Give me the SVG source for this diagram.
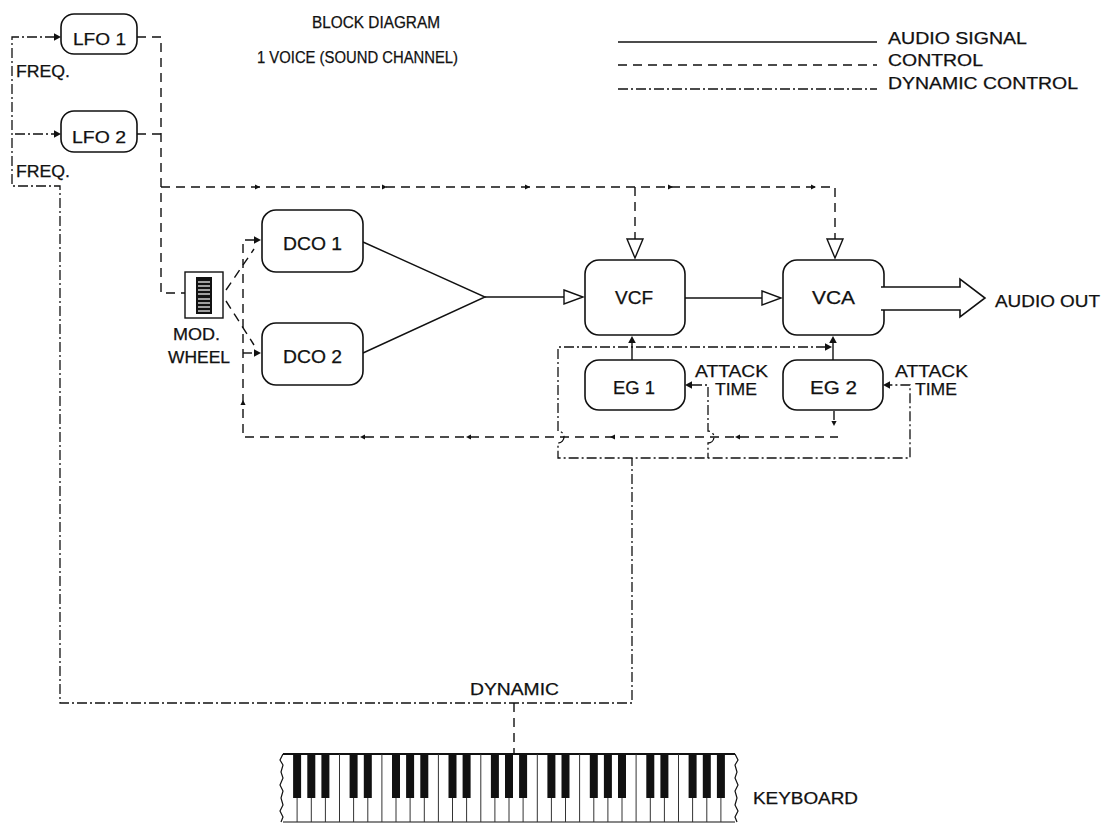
<svg xmlns="http://www.w3.org/2000/svg" xmlns:xlink="http://www.w3.org/1999/xlink" width="1104" height="827" viewBox="0 0 1104 827">
<style>
text{font-family:"Liberation Sans",Arial,sans-serif;fill:#111;stroke:#111;stroke-width:0.25}
.box{fill:#fff;stroke:#111;stroke-width:1.6}
.au{fill:none;stroke:#111;stroke-width:1.4}
.ct{fill:none;stroke:#111;stroke-width:1.4;stroke-dasharray:9 6}
.dy{fill:none;stroke:#111;stroke-width:1.3;stroke-dasharray:10 3 2 3}
.hol{fill:#fff;stroke:#111;stroke-width:1.4}
.wk{stroke:#333;stroke-width:1}
.bk{fill:#111}
</style>
<defs>
<path id="ah" d="M0,0 L-7,-3.8 L-7,3.8 Z" fill="#111"/>
<path id="sa" d="M0,0 L-5,-2.6 L-5,2.6 Z" fill="#111"/>
</defs>
<rect width="1104" height="827" fill="#fff"/>

<g id="titles">
<text x="312" y="28" font-size="16" textLength="128" lengthAdjust="spacingAndGlyphs">BLOCK DIAGRAM</text>
<text x="257" y="63" font-size="16" textLength="201" lengthAdjust="spacingAndGlyphs">1 VOICE (SOUND CHANNEL)</text>
</g>

<g id="legend">
<line class="au" x1="618" y1="42" x2="877" y2="42"/>
<line class="ct" x1="618" y1="65" x2="877" y2="65"/>
<line class="dy" x1="618" y1="89" x2="877" y2="89"/>
<text x="888" y="44" font-size="16" textLength="139" lengthAdjust="spacingAndGlyphs">AUDIO SIGNAL</text>
<text x="888" y="66" font-size="16" textLength="95" lengthAdjust="spacingAndGlyphs">CONTROL</text>
<text x="888" y="89" font-size="16" textLength="190" lengthAdjust="spacingAndGlyphs">DYNAMIC CONTROL</text>
</g>

<g id="connectors">
<path class="dy" d="M55,37 H12 V186 H60 V703 H632 V458"/>
<line class="dy" x1="15" y1="134" x2="55" y2="134"/>
<use xlink:href="#ah" transform="translate(61,37)"/>
<use xlink:href="#ah" transform="translate(61,134)"/>
<path class="ct" d="M137,37 H161 V293 H185"/>
<line class="ct" x1="137" y1="134" x2="161" y2="134"/>
<path class="ct" d="M161,187 H835 V240"/>
<line class="ct" x1="635" y1="187" x2="635" y2="240"/>
<use xlink:href="#sa" transform="translate(260,187)"/>
<use xlink:href="#sa" transform="translate(387,187)"/>
<use xlink:href="#sa" transform="translate(530,187)"/>
<use xlink:href="#sa" transform="translate(673,187)"/>
<use xlink:href="#sa" transform="translate(816,187)"/>
<polygon class="hol" points="627,239 643,239 635,258"/>
<polygon class="hol" points="827,239 843,239 835,258"/>
<line class="ct" x1="226" y1="290" x2="254" y2="249"/>
<line class="ct" x1="226" y1="301" x2="254" y2="345"/>
<path class="ct" d="M254,240 H243 V437 H838"/>
<line class="ct" x1="243" y1="353" x2="254" y2="353"/>
<use xlink:href="#ah" transform="translate(261,240)"/>
<use xlink:href="#ah" transform="translate(261,353)"/>
<use xlink:href="#sa" transform="translate(243,400) rotate(-90)"/>
<use xlink:href="#sa" transform="translate(360,437) rotate(180)"/>
<use xlink:href="#sa" transform="translate(466,437) rotate(180)"/>
<use xlink:href="#sa" transform="translate(610,437) rotate(180)"/>
<use xlink:href="#sa" transform="translate(735,437) rotate(180)"/>
<line class="au" x1="834" y1="411" x2="834" y2="420"/>
<use xlink:href="#sa" transform="translate(834,426) rotate(90)"/>
<path class="au" d="M363,242 L485,297 L363,353"/>
<line class="au" x1="485" y1="297" x2="564" y2="297"/>
<polygon class="hol" points="564,290 583,297 564,304"/>
<line class="au" x1="685" y1="298" x2="762" y2="298"/>
<polygon class="hol" points="762,291 781,298 762,305"/>
<line class="au" x1="632" y1="360" x2="632" y2="342"/>
<use xlink:href="#ah" transform="translate(632,336) rotate(-90)"/>
<line class="au" x1="833" y1="360" x2="833" y2="342"/>
<use xlink:href="#ah" transform="translate(833,336) rotate(-90)"/>
<path class="dy" d="M826,347 H558 V431 A6,6 0 0 1 558,443 V458 H910 V385 H890"/>
<path class="dy" d="M692,385 H708 V431 A6,6 0 0 1 708,443 V458"/>
<use xlink:href="#ah" transform="translate(832,347)"/>
<use xlink:href="#ah" transform="translate(685,385) rotate(180)"/>
<use xlink:href="#ah" transform="translate(883,385) rotate(180)"/>
<line class="ct" x1="514" y1="703" x2="514" y2="754"/>
</g>

<g id="lfo1"><rect class="box" x="61" y="14" width="76" height="40" rx="13"/><text x="73" y="45" font-size="17" textLength="53" lengthAdjust="spacingAndGlyphs">LFO 1</text></g>
<g id="lfo2"><rect class="box" x="61" y="111" width="76" height="41" rx="13"/><text x="72" y="143" font-size="17" textLength="54" lengthAdjust="spacingAndGlyphs">LFO 2</text></g>
<g id="freq1"><text x="16" y="77" font-size="16" textLength="54" lengthAdjust="spacingAndGlyphs">FREQ.</text></g>
<g id="freq2"><text x="16" y="177" font-size="16" textLength="54" lengthAdjust="spacingAndGlyphs">FREQ.</text></g>

<g id="modwheel">
<rect x="185" y="272" width="38" height="46" fill="#fff" stroke="#111" stroke-width="1.4"/>
<rect x="196" y="277" width="16" height="37" fill="#111"/>
<g stroke="#fff" stroke-width="1.2">
<line x1="198" y1="282" x2="210" y2="282"/><line x1="198" y1="286" x2="210" y2="286"/><line x1="198" y1="290" x2="210" y2="290"/><line x1="198" y1="294" x2="210" y2="294"/><line x1="198" y1="299" x2="210" y2="299"/><line x1="198" y1="303" x2="210" y2="303"/><line x1="198" y1="307" x2="210" y2="307"/><line x1="198" y1="311" x2="210" y2="311"/>
</g>
<text x="173" y="340" font-size="16" textLength="47" lengthAdjust="spacingAndGlyphs">MOD.</text>
<text x="168" y="363" font-size="16" textLength="62" lengthAdjust="spacingAndGlyphs">WHEEL</text>
</g>

<g id="dco1"><rect class="box" x="262" y="210" width="101" height="62" rx="14"/><text x="283" y="250" font-size="18" textLength="59" lengthAdjust="spacingAndGlyphs">DCO 1</text></g>
<g id="dco2"><rect class="box" x="262" y="323" width="101" height="62" rx="14"/><text x="283" y="363" font-size="18" textLength="59" lengthAdjust="spacingAndGlyphs">DCO 2</text></g>
<g id="vcf"><rect class="box" x="585" y="260" width="100" height="75" rx="14"/><text x="615" y="304" font-size="18" textLength="38" lengthAdjust="spacingAndGlyphs">VCF</text></g>
<g id="vca"><rect class="box" x="783" y="260" width="101" height="75" rx="14"/><text x="812" y="304" font-size="18" textLength="43" lengthAdjust="spacingAndGlyphs">VCA</text>
<path d="M881,287 H960 V279 L985,298 L960,317 V310 H881" fill="#fff" stroke="#111" stroke-width="1.6"/>
<line x1="884" y1="288" x2="884" y2="309" stroke="#fff" stroke-width="3"/>
</g>
<g id="audioout"><text x="995" y="307" font-size="16" textLength="105" lengthAdjust="spacingAndGlyphs">AUDIO OUT</text></g>
<g id="eg1"><rect class="box" x="585" y="360" width="100" height="50" rx="14"/><text x="613" y="394" font-size="18" textLength="42" lengthAdjust="spacingAndGlyphs">EG 1</text></g>
<g id="eg2"><rect class="box" x="783" y="360" width="100" height="50" rx="14"/><text x="810" y="394" font-size="18" textLength="47" lengthAdjust="spacingAndGlyphs">EG 2</text></g>
<g id="attack1"><text x="695" y="377" font-size="17" textLength="73" lengthAdjust="spacingAndGlyphs">ATTACK</text><text x="715" y="395" font-size="17" textLength="42" lengthAdjust="spacingAndGlyphs">TIME</text></g>
<g id="attack2"><text x="895" y="377" font-size="17" textLength="73" lengthAdjust="spacingAndGlyphs">ATTACK</text><text x="915" y="395" font-size="17" textLength="42" lengthAdjust="spacingAndGlyphs">TIME</text></g>
<g id="dynamic"><text x="470" y="695" font-size="16" textLength="89" lengthAdjust="spacingAndGlyphs">DYNAMIC</text></g>

<g id="keyboard">
<rect x="283" y="754" width="452" height="68" fill="#fff"/>
<line x1="283" y1="754" x2="735" y2="754" stroke="#111" stroke-width="1.8"/>
<line x1="283" y1="822" x2="735" y2="822" stroke="#111" stroke-width="1.2"/>
<path d="M283,754 l-3,6 l3,5 l-2,7 l2,6 l-3,7 l3,6 l-2,7 l2,7 l-3,6 l3,6 l-2,5" fill="none" stroke="#111" stroke-width="1.2"/>
<path d="M735,754 l3,6 l-3,5 l2,7 l-2,6 l3,7 l-3,6 l2,7 l-2,7 l3,6 l-3,6 l2,5" fill="none" stroke="#111" stroke-width="1.2"/>
<g class="wk">
<line x1="297.1" y1="754" x2="297.1" y2="822"/><line x1="311.3" y1="754" x2="311.3" y2="822"/><line x1="325.4" y1="754" x2="325.4" y2="822"/><line x1="339.5" y1="754" x2="339.5" y2="822"/><line x1="353.6" y1="754" x2="353.6" y2="822"/><line x1="367.8" y1="754" x2="367.8" y2="822"/><line x1="381.9" y1="754" x2="381.9" y2="822"/><line x1="396" y1="754" x2="396" y2="822"/><line x1="410.1" y1="754" x2="410.1" y2="822"/><line x1="424.3" y1="754" x2="424.3" y2="822"/><line x1="438.4" y1="754" x2="438.4" y2="822"/><line x1="452.5" y1="754" x2="452.5" y2="822"/><line x1="466.6" y1="754" x2="466.6" y2="822"/><line x1="480.8" y1="754" x2="480.8" y2="822"/><line x1="494.9" y1="754" x2="494.9" y2="822"/><line x1="509" y1="754" x2="509" y2="822"/><line x1="523.1" y1="754" x2="523.1" y2="822"/><line x1="537.3" y1="754" x2="537.3" y2="822"/><line x1="551.4" y1="754" x2="551.4" y2="822"/><line x1="565.5" y1="754" x2="565.5" y2="822"/><line x1="579.6" y1="754" x2="579.6" y2="822"/><line x1="593.8" y1="754" x2="593.8" y2="822"/><line x1="607.9" y1="754" x2="607.9" y2="822"/><line x1="622" y1="754" x2="622" y2="822"/><line x1="636.1" y1="754" x2="636.1" y2="822"/><line x1="650.3" y1="754" x2="650.3" y2="822"/><line x1="664.4" y1="754" x2="664.4" y2="822"/><line x1="678.5" y1="754" x2="678.5" y2="822"/><line x1="692.6" y1="754" x2="692.6" y2="822"/><line x1="706.8" y1="754" x2="706.8" y2="822"/><line x1="720.9" y1="754" x2="720.9" y2="822"/>
</g>
<g class="bk">
<rect x="293.1" y="754" width="8" height="44"/><rect x="307.3" y="754" width="8" height="44"/><rect x="321.4" y="754" width="8" height="44"/>
<rect x="349.6" y="754" width="8" height="44"/><rect x="363.8" y="754" width="8" height="44"/>
<rect x="392" y="754" width="8" height="44"/><rect x="406.1" y="754" width="8" height="44"/><rect x="420.3" y="754" width="8" height="44"/>
<rect x="448.5" y="754" width="8" height="44"/><rect x="462.6" y="754" width="8" height="44"/>
<rect x="490.9" y="754" width="8" height="44"/><rect x="505" y="754" width="8" height="44"/><rect x="519.1" y="754" width="8" height="44"/>
<rect x="547.4" y="754" width="8" height="44"/><rect x="561.5" y="754" width="8" height="44"/>
<rect x="589.8" y="754" width="8" height="44"/><rect x="603.9" y="754" width="8" height="44"/><rect x="618" y="754" width="8" height="44"/>
<rect x="646.3" y="754" width="8" height="44"/><rect x="660.4" y="754" width="8" height="44"/>
<rect x="688.6" y="754" width="8" height="44"/><rect x="702.8" y="754" width="8" height="44"/><rect x="716.9" y="754" width="8" height="44"/>
</g>
<text x="753" y="804" font-size="16" textLength="105" lengthAdjust="spacingAndGlyphs">KEYBOARD</text>
</g>
</svg>
